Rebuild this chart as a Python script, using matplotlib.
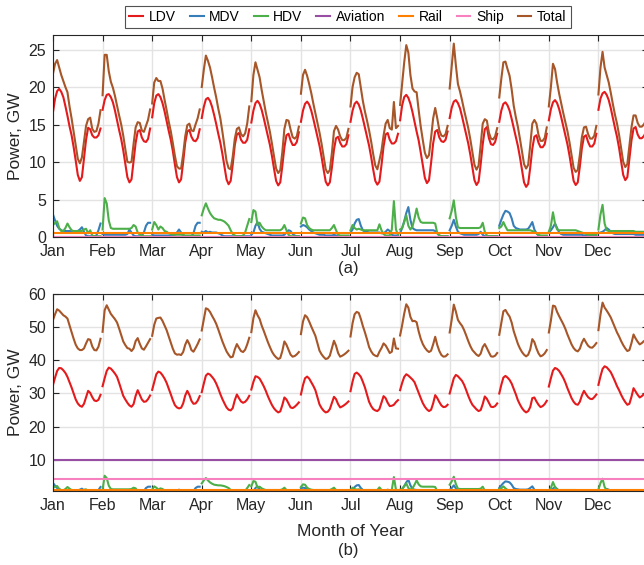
import numpy as np
import matplotlib
matplotlib.use("Agg")
import matplotlib.pyplot as plt

plt.rcParams['font.family'] = ['Liberation Sans', 'DejaVu Sans']

# month labels and hour of day (24 points per month)
MONTHS = ["Jan", "Feb", "Mar", "Apr", "May", "Jun", "Jul", "Aug", "Sep", "Oct", "Nov", "Dec"]
HOURS = np.arange(24)

# (a) LDV, GW, one typical day per month
LDV_A = [
    [16.7, 18.5, 19.5, 19.8, 19.4, 18.7, 17.5, 16.2, 14.8, 13.6, 12.0, 10.2, 8.3, 7.5, 8.0, 10.5, 13.0, 14.6, 14.4, 13.6, 13.3, 13.3, 13.6, 14.5],
    [17.0, 18.3, 19.0, 19.1, 18.7, 18.0, 16.9, 15.6, 14.3, 13.1, 11.6, 9.8, 8.0, 7.3, 7.7, 10.1, 12.6, 14.1, 14.3, 13.3, 12.8, 12.7, 13.1, 14.5],
    [16.0, 17.9, 18.9, 19.1, 18.7, 17.9, 16.8, 15.5, 14.2, 13.0, 11.5, 9.7, 8.0, 7.3, 7.7, 10.0, 12.6, 14.1, 14.3, 13.4, 12.9, 12.8, 13.2, 14.4],
    [15.9, 17.4, 18.4, 18.6, 18.2, 17.4, 16.3, 15.1, 13.8, 12.6, 11.1, 9.4, 7.7, 7.05, 7.5, 9.7, 12.3, 13.7, 13.9, 13.0, 12.6, 12.6, 13.0, 14.4],
    [15.3, 16.9, 17.9, 18.2, 17.8, 17.0, 15.9, 14.7, 13.5, 12.3, 10.8, 9.1, 7.5, 6.9, 7.3, 9.5, 12.0, 13.6, 13.8, 12.9, 12.3, 12.3, 12.7, 14.0],
    [15.4, 16.9, 17.8, 18.1, 17.7, 16.9, 15.8, 14.6, 13.4, 12.2, 10.7, 9.0, 7.4, 6.9, 7.3, 9.3, 11.7, 13.2, 13.4, 12.6, 12.1, 12.1, 12.4, 13.6],
    [15.4, 16.9, 17.8, 18.1, 17.7, 16.9, 15.8, 14.6, 13.4, 12.2, 10.7, 9.0, 7.5, 7.0, 7.4, 9.6, 12.1, 13.7, 13.9, 13.0, 12.5, 12.5, 12.8, 13.8],
    [15.6, 17.6, 18.7, 19.0, 18.6, 17.8, 16.7, 15.4, 14.1, 12.9, 11.3, 9.6, 7.9, 7.2, 7.6, 9.9, 12.5, 14.1, 14.3, 13.3, 12.8, 12.7, 13.0, 14.1],
    [15.9, 17.3, 18.1, 18.3, 17.9, 17.2, 16.1, 14.9, 13.7, 12.5, 11.0, 9.3, 7.6, 6.95, 7.4, 9.7, 12.4, 14.4, 14.7, 13.2, 12.4, 12.3, 12.7, 13.8],
    [15.4, 16.9, 17.8, 18.0, 17.6, 16.9, 15.8, 14.6, 13.4, 12.2, 10.7, 9.0, 7.3, 6.7, 7.1, 9.3, 11.8, 13.4, 13.6, 12.6, 12.0, 12.0, 12.4, 13.8],
    [15.6, 17.1, 18.0, 18.3, 17.9, 17.1, 16.0, 14.8, 13.6, 12.4, 10.9, 9.2, 7.5, 6.95, 7.3, 9.4, 11.9, 13.4, 13.6, 12.7, 12.1, 12.1, 12.5, 13.8],
    [17.0, 18.5, 19.2, 19.4, 19.0, 18.3, 17.2, 15.9, 14.6, 13.4, 11.9, 10.1, 8.3, 7.6, 8.0, 10.4, 12.9, 14.5, 14.7, 13.7, 13.2, 13.2, 13.5, 14.0],
]

# (b) LDV, GW
LDV_B = [
    [32.6, 34.8, 36.8, 37.7, 37.6, 37.0, 36.2, 35.0, 33.4, 31.8, 30.0, 28.2, 27.0, 26.3, 26.0, 26.9, 28.8, 30.8, 30.2, 28.9, 27.9, 27.7, 28.1, 29.6],
    [32.2, 34.6, 36.8, 37.8, 37.5, 36.8, 36.0, 35.0, 33.2, 31.2, 29.3, 28.2, 27.2, 26.4, 26.0, 26.8, 29.3, 31.0, 29.6, 28.2, 27.5, 27.6, 28.3, 29.4],
    [31.1, 33.5, 35.8, 36.6, 36.3, 35.5, 34.5, 33.2, 31.5, 29.8, 28.0, 26.5, 25.8, 25.5, 25.7, 27.0, 29.4, 30.8, 29.6, 27.8, 26.9, 27.0, 27.8, 29.2],
    [30.4, 33.0, 35.4, 36.0, 35.7, 35.0, 34.2, 33.0, 31.5, 29.8, 28.3, 27.0, 25.8, 25.1, 24.9, 25.6, 28.0, 29.7, 28.6, 27.6, 27.2, 27.5, 28.2, 29.3],
    [31.2, 33.5, 35.2, 35.0, 34.5, 33.4, 32.2, 30.8, 29.2, 27.8, 26.5, 25.5, 24.8, 24.3, 24.6, 26.5, 28.8, 28.2, 27.0, 25.8, 25.6, 26.0, 26.6, 27.3],
    [29.7, 32.5, 34.6, 35.1, 34.5, 33.4, 32.3, 31.0, 28.9, 26.7, 25.6, 24.8, 24.3, 24.5, 25.3, 27.2, 29.0, 28.3, 26.8, 25.8, 26.1, 26.5, 27.0, 27.6],
    [30.7, 33.6, 35.9, 36.3, 35.8, 35.0, 33.5, 31.8, 29.7, 27.5, 26.2, 25.3, 24.9, 24.7, 25.3, 27.3, 29.2, 28.6, 27.2, 26.2, 26.3, 26.6, 27.4, 28.0],
    [31.0, 33.2, 35.0, 35.8, 35.4, 34.8, 34.2, 33.4, 31.8, 30.2, 28.6, 27.1, 26.0, 25.2, 24.7, 25.1, 27.0, 29.5, 28.6, 27.4, 26.4, 25.9, 26.0, 26.6],
    [30.0, 32.3, 34.6, 35.6, 35.2, 34.5, 33.8, 32.6, 31.0, 29.3, 27.8, 26.6, 25.9, 25.2, 24.7, 25.0, 26.8, 29.1, 28.4, 27.2, 26.0, 25.9, 26.2, 27.0],
    [30.0, 32.6, 34.8, 35.3, 34.8, 34.1, 33.0, 31.4, 29.8, 28.0, 26.7, 25.6, 24.8, 24.3, 24.7, 25.9, 28.6, 28.8, 27.6, 26.6, 25.9, 26.2, 26.8, 27.8],
    [32.1, 34.6, 36.9, 37.7, 37.4, 36.8, 35.8, 34.7, 33.3, 31.6, 30.1, 28.6, 27.5, 26.8, 26.6, 27.5, 29.4, 30.8, 29.8, 28.9, 28.4, 28.3, 28.9, 29.7],
    [32.6, 35.2, 37.4, 38.2, 37.9, 37.2, 36.4, 35.1, 33.7, 32.2, 31.0, 29.6, 28.4, 27.4, 26.6, 26.9, 29.0, 31.6, 30.6, 29.6, 28.8, 29.2, 29.8, 30.1],
]

# MDV and HDV, GW (same in both panels)
MDV = [
    [3.0, 2.2, 1.5, 1.1, 0.9, 0.8, 0.8, 0.8, 0.8, 0.8, 0.7, 0.7, 0.8, 1.0, 1.3, 0.7, 0.2, 0.1, 0.1, 0.1, 0.1, 0.2, 0.9, 1.8],
    [0.4, 0.3, 0.3, 0.3, 0.3, 0.3, 0.3, 0.3, 0.3, 0.3, 0.3, 0.3, 0.4, 1.0, 0.6, 0.2, 0.1, 0.1, 0.1, 0.2, 0.6, 1.5, 1.9, 1.9],
    [0.3, 0.2, 0.2, 0.2, 0.2, 0.2, 0.2, 0.2, 0.2, 0.2, 0.2, 0.3, 0.6, 1.0, 0.6, 0.2, 0.1, 0.1, 0.1, 0.1, 0.5, 1.5, 1.9, 1.9],
    [0.7, 0.6, 0.8, 0.6, 0.7, 0.6, 0.6, 0.6, 0.5, 0.4, 0.2, 0.1, 0.1, 0.1, 0.1, 0.1, 0.1, 0.1, 0.1, 0.1, 0.1, 0.1, 0.1, 0.1],
    [0.3, 0.6, 1.5, 2.0, 1.1, 0.7, 0.6, 0.5, 0.4, 0.3, 0.2, 0.2, 0.2, 0.2, 0.2, 0.2, 0.3, 0.6, 0.9, 0.8, 0.4, 0.2, 0.1, 0.1],
    [1.4, 1.6, 1.5, 1.3, 1.0, 0.8, 0.6, 0.5, 0.4, 0.3, 0.3, 0.3, 0.2, 0.2, 0.2, 0.2, 0.3, 0.2, 0.1, 0.1, 0.1, 0.1, 0.1, 0.1],
    [0.6, 1.0, 1.8, 2.3, 2.4, 1.5, 0.9, 0.7, 0.7, 0.6, 0.6, 0.6, 0.6, 0.6, 0.6, 0.5, 0.5, 0.7, 1.0, 0.8, 0.3, 0.2, 0.2, 0.2],
    [0.5, 1.2, 2.1, 3.2, 4.0, 2.3, 1.2, 1.0, 0.9, 0.9, 0.9, 0.9, 0.9, 0.9, 0.9, 0.9, 0.9, 0.8, 0.5, 0.2, 0.1, 0.1, 0.1, 0.1],
    [0.9, 1.5, 2.3, 1.4, 0.7, 0.5, 0.4, 0.3, 0.3, 0.3, 0.3, 0.3, 0.3, 0.3, 0.4, 0.7, 0.3, 0.1, 0.1, 0.1, 0.1, 0.1, 0.1, 0.1],
    [1.5, 2.3, 3.0, 3.5, 3.4, 3.2, 2.5, 1.5, 1.2, 1.1, 1.0, 1.0, 1.0, 1.0, 1.1, 1.5, 2.0, 1.0, 0.5, 0.2, 0.1, 0.1, 0.1, 0.1],
    [0.6, 0.9, 1.3, 1.8, 1.2, 0.6, 0.4, 0.3, 0.3, 0.3, 0.3, 0.3, 0.3, 0.3, 0.3, 0.3, 0.3, 0.2, 0.2, 0.2, 0.2, 0.2, 0.2, 0.2],
    [0.5, 0.6, 0.7, 0.9, 1.2, 1.0, 0.7, 0.5, 0.4, 0.4, 0.4, 0.4, 0.4, 0.4, 0.4, 0.4, 0.4, 0.4, 0.3, 0.3, 0.3, 0.3, 0.3, 0.3],
]

HDV = [
    [1.6, 1.9, 2.1, 1.2, 0.8, 0.8, 1.2, 1.8, 1.3, 0.9, 0.8, 0.8, 0.8, 0.8, 0.8, 1.0, 1.1, 0.5, 0.9, 0.2, 0.1, 0.1, 0.1, 0.1],
    [1.0, 5.2, 4.5, 2.2, 1.2, 1.1, 1.1, 1.1, 1.1, 1.1, 1.1, 1.1, 1.1, 1.1, 1.2, 1.6, 1.4, 0.6, 0.3, 0.2, 0.1, 0.1, 0.1, 0.1],
    [1.0, 2.0, 1.6, 1.0, 1.4, 1.2, 0.8, 0.7, 0.5, 0.4, 0.3, 0.3, 0.3, 0.3, 0.3, 0.3, 0.2, 0.2, 0.2, 0.2, 0.2, 0.2, 0.2, 0.2],
    [2.9, 3.8, 4.5, 3.8, 3.2, 2.8, 2.5, 2.4, 2.3, 2.3, 2.2, 2.05, 1.8, 1.5, 0.9, 0.4, 0.2, 0.1, 0.1, 0.1, 0.2, 0.6, 1.5, 2.4],
    [2.0, 3.6, 3.4, 1.6, 1.9, 1.4, 1.1, 0.9, 0.9, 0.9, 0.9, 0.9, 0.9, 0.9, 0.9, 1.1, 1.6, 0.9, 0.3, 0.1, 0.1, 0.1, 0.1, 0.1],
    [1.8, 2.6, 2.5, 1.6, 1.2, 1.0, 0.9, 0.9, 0.9, 0.9, 0.9, 0.9, 0.9, 0.9, 0.9, 1.2, 1.6, 0.9, 0.3, 0.2, 0.2, 0.2, 0.2, 0.2],
    [0.9, 1.6, 1.2, 1.0, 1.1, 1.0, 0.9, 0.9, 0.9, 0.9, 0.9, 0.9, 0.9, 0.9, 1.7, 0.9, 0.4, 0.2, 0.2, 0.2, 1.0, 4.8, 1.0, 0.3],
    [1.0, 1.2, 2.0, 2.9, 1.5, 1.0, 1.4, 2.5, 3.8, 2.6, 2.0, 1.9, 1.9, 1.9, 1.9, 1.9, 1.9, 1.8, 0.5, 0.2, 0.1, 0.1, 0.1, 0.1],
    [2.5, 3.5, 4.9, 2.7, 1.3, 1.2, 1.2, 1.2, 1.2, 1.2, 1.2, 1.2, 1.2, 1.2, 1.2, 1.3, 1.9, 0.7, 0.2, 0.1, 0.1, 0.1, 0.1, 0.1],
    [1.2, 1.4, 2.0, 1.4, 0.9, 0.9, 0.9, 0.9, 0.9, 0.9, 0.9, 0.9, 0.9, 0.9, 0.9, 0.9, 0.8, 0.7, 0.5, 0.3, 0.2, 0.2, 0.2, 0.2],
    [0.7, 1.5, 3.3, 1.8, 1.0, 0.9, 0.9, 0.9, 0.9, 0.9, 0.9, 0.9, 0.9, 0.9, 0.8, 0.7, 0.6, 0.5, 0.4, 0.3, 0.3, 0.3, 0.3, 0.3],
    [1.0, 3.0, 4.3, 1.8, 0.9, 0.8, 0.8, 0.8, 0.8, 0.8, 0.8, 0.8, 0.8, 0.8, 0.8, 0.8, 0.8, 0.8, 0.7, 0.7, 0.7, 0.7, 0.7, 0.7],
]

# flat loads, GW
AVIATION_A, RAIL_A, SHIP_A = 0.0, 0.5, 0.05
AVIATION_B, RAIL_B, SHIP_B = 10.0, 0.8, 4.2

COLORS = {"LDV": "#e41a1c", "MDV": "#377eb8", "HDV": "#4daf4a", "Aviation": "#984ea3",
          "Rail": "#ff7f00", "Ship": "#f781bf", "Total": "#a65628"}


def segs(monthly):
    # one day per month, month m spans [m, m+1); NaN breaks the line between months
    xs, ys = [], []
    for m, vals in enumerate(monthly):
        xs.extend(list(m + 1 + HOURS / 24.0) + [np.nan])
        ys.extend(list(vals) + [np.nan])
    return np.array(xs), np.array(ys)


def panel(ax, ldv, aviation, rail, ship):
    flat = lambda v: [[v] * 24 for _ in range(12)]
    series = {
        "LDV": ldv, "MDV": MDV, "HDV": HDV,
        "Aviation": flat(aviation), "Rail": flat(rail), "Ship": flat(ship),
    }
    total = [list(np.array(ldv[m]) + np.array(MDV[m]) + np.array(HDV[m]) + aviation + rail + ship)
             for m in range(12)]
    series["Total"] = total
    lines = []
    for name, data in series.items():
        x, y = segs(data)
        ln, = ax.plot(x, y, color=COLORS[name], lw=1.5, label=name)
        lines.append(ln)
    ax.set_xlim(1, 13)
    ax.set_xticks(range(1, 13))
    ax.set_xticklabels(MONTHS)
    ax.grid(True, color="#e3e3e3", lw=1.0)
    ax.set_axisbelow(True)
    ax.tick_params(direction="in", top=True, right=True, length=4, labelsize=11.5,
                   colors="#262626", pad=5)
    for s in ax.spines.values():
        s.set_color("#262626")
        s.set_linewidth(0.8)
    ax.set_ylabel("Power, GW", fontsize=12.5, color="#262626")
    return lines


fig = plt.figure(figsize=(6.44, 5.65), dpi=100)
ax1 = fig.add_axes([53 / 644, 1 - 237 / 565, 595 / 644, 202 / 565])
ax2 = fig.add_axes([53 / 644, 1 - 491 / 565, 595 / 644, 197 / 565])

lines = panel(ax1, LDV_A, AVIATION_A, RAIL_A, SHIP_A)
ax1.set_ylim(0, 27)
ax1.set_yticks([0, 5, 10, 15, 20, 25])

panel(ax2, LDV_B, AVIATION_B, RAIL_B, SHIP_B)
ax2.set_ylim(0.6, 60)
ax2.set_yticks([10, 20, 30, 40, 50, 60])
ax2.set_xlabel("Month of Year", fontsize=12.5, color="#262626", labelpad=8)

fig.text(348 / 644, 1 - 269 / 565, "(a)", ha="center", va="center", fontsize=12, color="#262626")
fig.text(348 / 644, 1 - 551 / 565, "(b)", ha="center", va="center", fontsize=12, color="#262626")

leg = fig.legend(handles=lines, loc="center", bbox_to_anchor=(348 / 644, 1 - 17 / 565), ncol=7,
                 fontsize=10, frameon=True, fancybox=False, handlelength=1.0, handletextpad=0.4,
                 columnspacing=1.0, borderpad=0.3)
leg.get_frame().set_edgecolor("#262626")
leg.get_frame().set_linewidth(0.8)

fig.savefig("out.png", dpi=100)
